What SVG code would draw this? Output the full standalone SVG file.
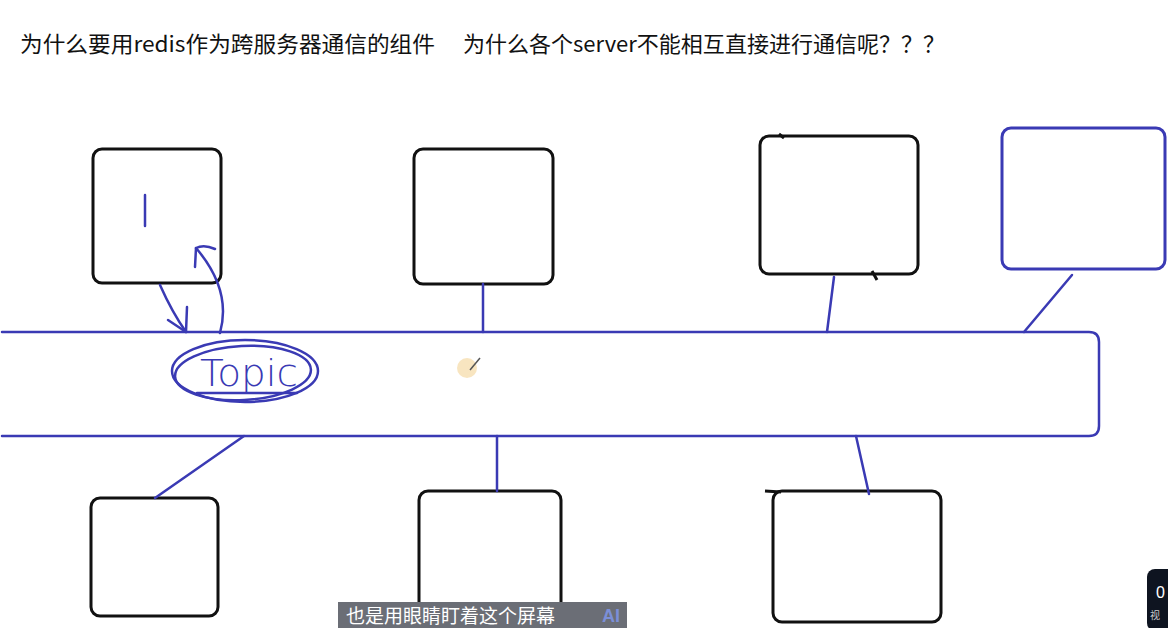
<svg xmlns="http://www.w3.org/2000/svg" width="1168" height="628" viewBox="0 0 1168 628">
<style>
.title{font-family:"Noto Sans CJK SC","Liberation Sans",sans-serif;font-size:22px;fill:#111}
.box{fill:none;stroke:#111;stroke-width:3}
.bbox{fill:none;stroke:#3a3ab4;stroke-width:3}
.ink{fill:none;stroke:#3a3ab4;stroke-width:2.5;stroke-linecap:round;stroke-linejoin:round}
.topic{font-family:"DejaVu Sans","Liberation Sans",sans-serif;font-size:38px;font-weight:200;fill:#3a3ab4}
.cap{font-family:"Noto Sans CJK SC","Liberation Sans",sans-serif;font-size:19px;fill:#fff}
</style>
<rect width="1168" height="628" fill="#fff"/>
<text class="title" x="20" y="52" textLength="415" lengthAdjust="spacingAndGlyphs">为什么要用redis作为跨服务器通信的组件</text>
<text class="title" x="463" y="52" textLength="482" lengthAdjust="spacingAndGlyphs">为什么各个server不能相互直接进行通信呢？？？</text>

<g id="bus">
<path class="ink" stroke-width="3" d="M2 332 H1089 Q1099 332 1099 342 V426 Q1099 436 1089 436 H2"/>
</g>

<g id="node1">
<rect class="box" x="93" y="149" width="128" height="134" rx="9"/>
<line class="ink" x1="145" y1="195" x2="145" y2="226"/>
</g>
<g id="node2"><rect class="box" x="414" y="149" width="139" height="135" rx="9"/></g>
<g id="node3">
<rect class="box" x="760" y="136" width="158" height="138" rx="9"/>
<path class="box" stroke-width="2" d="M779 134 L784 138 M872 271 L877 280"/>
</g>
<g id="node4"><rect class="bbox" x="1002" y="128" width="163" height="141" rx="9"/></g>
<g id="node5"><rect class="box" x="91" y="498" width="127" height="118" rx="9"/></g>
<g id="node6"><rect class="box" x="419" y="491" width="142" height="150" rx="9"/></g>
<g id="node7">
<rect class="box" x="773" y="491" width="168" height="131" rx="9"/>
<path class="box" stroke-width="2" d="M765 491 L781 492"/>
</g>

<g id="topic">
<ellipse class="ink" cx="245" cy="371" rx="73" ry="31"/>
<ellipse class="ink" cx="243" cy="373" rx="68" ry="27" transform="rotate(-3 243 373)"/>
<text class="topic" x="200" y="386" textLength="98" lengthAdjust="spacingAndGlyphs">Topic</text>
<line class="ink" x1="197" y1="393" x2="297" y2="393"/>
</g>

<g id="connectors">
<path class="ink" d="M160 285 Q172 312 186 332"/>
<path class="ink" d="M168 320 L186 332 L187 307"/>
<path class="ink" d="M220 333 Q232 290 196 248"/>
<path class="ink" d="M215 249 Q204 244 196 248 L195 267"/>
<line class="ink" x1="483" y1="284" x2="483" y2="332"/>
<line class="ink" x1="834" y1="277" x2="827" y2="332"/>
<line class="ink" x1="1072" y1="275" x2="1024" y2="332"/>
<line class="ink" x1="155" y1="498" x2="244" y2="436"/>
<line class="ink" x1="497" y1="436" x2="497" y2="491"/>
<line class="ink" x1="856" y1="436" x2="869" y2="494"/>
</g>

<circle cx="467" cy="368" r="10" fill="#f6deb0" opacity="0.8"/>
<path d="M470 370 L480 358" stroke="#555" stroke-width="1.5"/>

<g id="caption">
<rect x="338" y="602" width="289" height="26" fill="#6b6e76"/>
<text class="cap" x="346" y="623">也是用眼睛盯着这个屏幕</text>
<text x="602" y="622" font-family="Liberation Sans,sans-serif" font-size="18" font-weight="bold" fill="#7b8fd8">AI</text>
</g>
<g id="badge">
<rect x="1147" y="569" width="30" height="62" rx="8" fill="#0e1420"/>
<text x="1150" y="619" font-family="Noto Sans CJK SC,sans-serif" font-size="10" fill="#ccc">视</text>
<text x="1156" y="598" font-family="Liberation Sans,sans-serif" font-size="16" fill="#fff">0</text>
</g>
</svg>
